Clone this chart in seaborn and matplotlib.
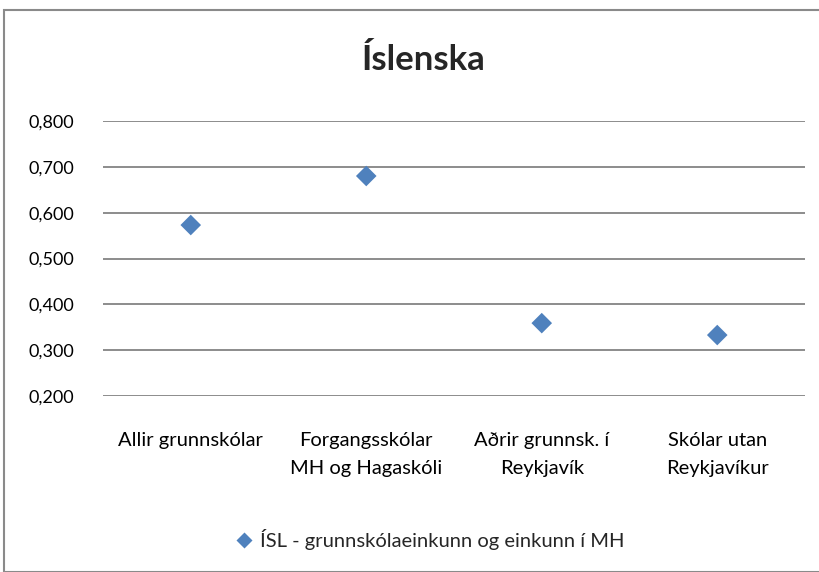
import matplotlib
matplotlib.use("Agg")
import matplotlib.pyplot as plt
import seaborn as sns
import pandas as pd
from matplotlib.patches import Rectangle

categories = ["Allir grunnskólar", "Forgangsskólar\nMH og Hagaskóli",
              "Aðrir grunnsk. í\nReykjavík", "Skólar utan\nReykjavíkur"]
values = [0.573, 0.680, 0.359, 0.333]
series_name = "ÍSL - grunnskólaeinkunn og einkunn í MH"
yticks = [0.2, 0.3, 0.4, 0.5, 0.6, 0.7, 0.8]
ytick_labels = ["0,200", "0,300", "0,400", "0,500", "0,600", "0,700", "0,800"]

df = pd.DataFrame({"cat": categories, "val": values, "series": series_name})

sns.set_style("white")
plt.rcParams["font.family"] = ["Lato", "DejaVu Sans"]

W, H = 819, 572
fig = plt.figure(figsize=(W / 100, H / 100), dpi=100)
ax = fig.add_axes([103 / W, 1 - 396 / H, (805 - 103) / W, (396 - 121) / H])

sns.scatterplot(data=df, x="cat", y="val", hue="series", palette=["#4F81BD"],
                marker="D", s=110, edgecolor="none", ax=ax, zorder=3)

ax.set_xlim(-0.5, 3.5)
ax.set_ylim(0.2, 0.8)
ax.set_yticks(yticks)
ax.set_yticklabels(ytick_labels, fontsize=13)
ax.set_xticks(range(len(categories)))
ax.set_xticklabels(categories, fontsize=14.5, linespacing=1.75)
ax.tick_params(axis="both", length=0, colors="black")
ax.tick_params(axis="y", pad=21)
ax.tick_params(axis="x", pad=26)
ax.set_xlabel("")
ax.set_ylabel("")
ax.grid(axis="y", color="#8c8c8c", linewidth=1.4)
ax.set_axisbelow(True)
for s in ax.spines.values():
    s.set_visible(False)

fig.text(424 / W, 1 - 60 / H, "Íslenska", ha="center", va="center",
         fontsize=25, fontweight="bold")

leg = ax.legend(loc="center", bbox_to_anchor=(424 / W, 1 - 540 / H),
                bbox_transform=fig.transFigure, frameon=False, fontsize=14.5,
                handletextpad=-0.2, markerscale=0.8)

fig.patches.append(Rectangle((4 / W, 0), 1, 1 - 10 / H, transform=fig.transFigure,
                             fill=False, edgecolor="#8a8a8a", linewidth=1.5))

fig.savefig("out.png", dpi=100)
